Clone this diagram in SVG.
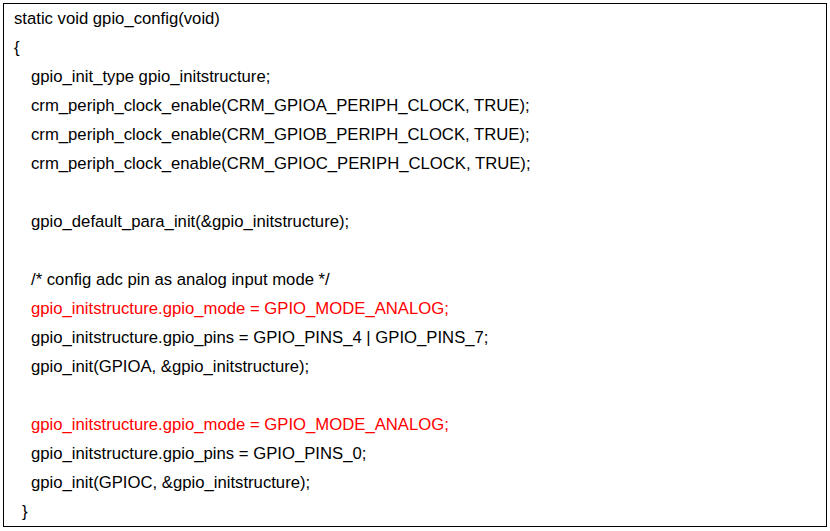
<svg xmlns="http://www.w3.org/2000/svg" width="830" height="531" viewBox="0 0 830 531">
<style>
text{font-family:"Liberation Sans",Arial,sans-serif;font-size:16.7px;fill:#000}
.r{fill:#ff0000}
</style>
<rect x="0" y="0" width="830" height="531" fill="#fff"/>
<rect x="3.5" y="3.5" width="823" height="523" fill="#fff" stroke="#000" stroke-width="1"/>
<g id="code">
<text x="14" y="24">static void gpio_config(void)</text>
<text x="14" y="53">{</text>
<text x="31" y="82">gpio_init_type gpio_initstructure;</text>
<text x="31" y="111">crm_periph_clock_enable(CRM_GPIOA_PERIPH_CLOCK, TRUE);</text>
<text x="31" y="140">crm_periph_clock_enable(CRM_GPIOB_PERIPH_CLOCK, TRUE);</text>
<text x="31" y="169">crm_periph_clock_enable(CRM_GPIOC_PERIPH_CLOCK, TRUE);</text>
<text x="31" y="227">gpio_default_para_init(&amp;gpio_initstructure);</text>
<text x="31" y="285">/* config adc pin as analog input mode */</text>
<text x="31" y="314" class="r">gpio_initstructure.gpio_mode = GPIO_MODE_ANALOG;</text>
<text x="31" y="343">gpio_initstructure.gpio_pins = GPIO_PINS_4 | GPIO_PINS_7;</text>
<text x="31" y="372">gpio_init(GPIOA, &amp;gpio_initstructure);</text>
<text x="31" y="430" class="r">gpio_initstructure.gpio_mode = GPIO_MODE_ANALOG;</text>
<text x="31" y="459">gpio_initstructure.gpio_pins = GPIO_PINS_0;</text>
<text x="31" y="488">gpio_init(GPIOC, &amp;gpio_initstructure);</text>
<text x="22" y="517">}</text>
</g>
</svg>
